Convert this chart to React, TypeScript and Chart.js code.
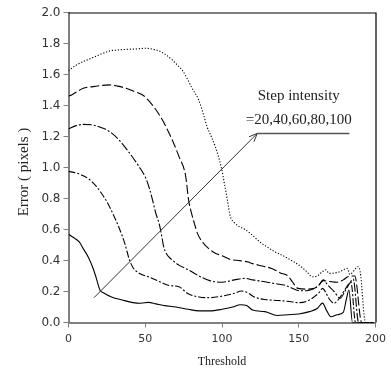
import React, { useEffect, useRef } from "react";
import { Chart, registerables } from "chart.js";

Chart.register(...registerables);

// Step intensity = 20
const s20X = [0, 3, 7, 10, 13, 16, 18, 20.5, 23, 28, 35, 42, 47, 52, 57, 62, 70, 78, 85, 92, 100, 107, 112, 116, 120, 128, 136, 143, 150, 157, 162, 165.5, 168, 171, 175, 179, 181, 182.7, 185, 199];
const s20Y = [0.57, 0.55, 0.52, 0.47, 0.42, 0.35, 0.29, 0.21, 0.19, 0.165, 0.145, 0.128, 0.124, 0.13, 0.12, 0.11, 0.1, 0.085, 0.075, 0.075, 0.085, 0.1, 0.115, 0.11, 0.08, 0.07, 0.045, 0.05, 0.055, 0.07, 0.09, 0.125, 0.08, 0.037, 0.05, 0.065, 0.15, 0.21, 0, 0];

// Step intensity = 40
const s40X = [0, 5, 10, 14, 18, 21, 25, 29, 33, 37, 39.5, 42, 46, 52, 59, 65, 72, 78, 85, 92, 100, 107, 113, 117, 121, 128, 137, 144, 150, 156, 160, 163, 165.5, 168, 170, 173, 176, 180, 184, 187, 199];
const s40Y = [0.975, 0.965, 0.945, 0.92, 0.88, 0.84, 0.78, 0.7, 0.61, 0.5, 0.41, 0.355, 0.318, 0.295, 0.265, 0.24, 0.23, 0.185, 0.165, 0.16, 0.17, 0.185, 0.203, 0.19, 0.165, 0.148, 0.142, 0.135, 0.128, 0.14, 0.165, 0.19, 0.22, 0.185, 0.15, 0.124, 0.15, 0.21, 0.26, 0, 0];

// Step intensity = 60
const s60X = [0, 5, 9.6, 16, 22, 27, 33, 40, 46, 50.4, 53, 55, 57, 59, 60.5, 62, 64, 68, 72, 78, 85, 92, 100, 108, 115, 120, 128, 135, 141, 146, 150, 155, 160, 163, 166, 169, 173, 177, 180, 183, 185.5, 189, 199];
const s60Y = [1.25, 1.27, 1.278, 1.274, 1.255, 1.23, 1.177, 1.09, 1.005, 0.93, 0.855, 0.78, 0.7, 0.64, 0.57, 0.49, 0.44, 0.4, 0.37, 0.34, 0.3, 0.27, 0.26, 0.275, 0.285, 0.275, 0.263, 0.25, 0.24, 0.22, 0.205, 0.205, 0.22, 0.24, 0.275, 0.24, 0.2, 0.156, 0.2, 0.25, 0.28, 0, 0];

// Step intensity = 80
const s80X = [0, 2, 9.6, 16, 26.8, 32, 37.5, 43, 48.3, 54.7, 61.2, 67.6, 72, 76.2, 78.4, 80, 82, 84, 88, 91, 95, 100, 106, 111, 117, 120, 126, 132, 138, 143, 146, 149.5, 155, 160, 163, 166, 170, 175, 179, 182, 186.5, 191, 199];
const s80Y = [1.46, 1.468, 1.511, 1.522, 1.533, 1.525, 1.511, 1.49, 1.468, 1.403, 1.306, 1.177, 1.07, 0.951, 0.78, 0.71, 0.64, 0.575, 0.51, 0.48, 0.45, 0.43, 0.405, 0.4, 0.39, 0.38, 0.365, 0.35, 0.32, 0.3, 0.26, 0.22, 0.215, 0.22, 0.24, 0.27, 0.265, 0.26, 0.275, 0.295, 0.3, 0, 0];

// Step intensity = 100
const s100X = [0, 5, 9.6, 16, 22, 26.8, 32, 37.5, 44, 50.4, 55, 59, 63, 67.6, 71, 74, 77, 80.5, 84.8, 88, 90.2, 93, 95.6, 98, 99.9, 101.5, 103.1, 104.2, 105, 106, 108, 111, 115, 119, 124.6, 129, 134.3, 138, 142.9, 147, 151.5, 155, 159, 162, 165.5, 167.6, 169.8, 176, 181.6, 183.3, 186, 188.5, 190, 193.5, 199];
const s100Y = [1.625, 1.66, 1.683, 1.71, 1.735, 1.752, 1.758, 1.762, 1.765, 1.769, 1.763, 1.752, 1.73, 1.694, 1.66, 1.629, 1.58, 1.511, 1.436, 1.34, 1.264, 1.2, 1.135, 1.06, 0.984, 0.9, 0.812, 0.748, 0.7, 0.67, 0.645, 0.62, 0.6, 0.57, 0.52, 0.49, 0.457, 0.44, 0.414, 0.39, 0.36, 0.33, 0.295, 0.3, 0.328, 0.34, 0.317, 0.325, 0.349, 0.31, 0.335, 0.36, 0.33, 0, 0];

const xTicks = [0, 50, 100, 150, 200];
const yTicks = [0, 0.2, 0.4, 0.6, 0.8, 1.0, 1.2, 1.4, 1.6, 1.8, 2.0];

// Annotation (data coordinates)
const arrowFrom = [16.6, 0.16];
const arrowTo = [123, 1.22];
const shelfEndX = 183;
const noteLines = ["Step intensity", "=20,40,60,80,100"];
const noteAnchorX = 150;
const noteLineY = [1.435, 1.28];

const xTitle = "Threshold";
const yTitle = "Error ( pixels )";

const seriesList = [
  { label: "20", xs: s20X, ys: s20Y, dash: [] as number[] },
  { label: "40", xs: s40X, ys: s40Y, dash: [7, 2, 2, 2] },
  { label: "60", xs: s60X, ys: s60Y, dash: [9, 2, 2, 2] },
  { label: "80", xs: s80X, ys: s80Y, dash: [9, 3] },
  { label: "100", xs: s100X, ys: s100Y, dash: [1.2, 1.8] },
];

const decorPlugin = {
  id: "decor",
  afterDraw(chart: any) {
    const { ctx, chartArea, scales } = chart;
    const xs = scales.x;
    const ys = scales.y;
    ctx.save();
    // top & right frame
    ctx.strokeStyle = "#000";
    ctx.lineWidth = 1.2;
    ctx.beginPath();
    ctx.moveTo(chartArea.left, chartArea.top + 0.5);
    ctx.lineTo(chartArea.right + 0.5, chartArea.top + 0.5);
    ctx.lineTo(chartArea.right + 0.5, chartArea.bottom);
    ctx.stroke();

    // arrow
    const x0 = xs.getPixelForValue(arrowFrom[0]);
    const y0 = ys.getPixelForValue(arrowFrom[1]);
    const x1 = xs.getPixelForValue(arrowTo[0]);
    const y1 = ys.getPixelForValue(arrowTo[1]);
    const x2 = xs.getPixelForValue(shelfEndX);
    ctx.strokeStyle = "#333";
    ctx.lineWidth = 1;
    ctx.beginPath();
    ctx.moveTo(x0, y0);
    ctx.lineTo(x1, y1);
    ctx.stroke();
    const ang = Math.atan2(y1 - y0, x1 - x0);
    const hl = 9;
    ctx.beginPath();
    ctx.moveTo(x1 - hl * Math.cos(ang - 0.4), y1 - hl * Math.sin(ang - 0.4));
    ctx.lineTo(x1, y1);
    ctx.lineTo(x1 - hl * Math.cos(ang + 0.4), y1 - hl * Math.sin(ang + 0.4));
    ctx.stroke();
    ctx.strokeStyle = "#555";
    ctx.lineWidth = 1.5;
    ctx.beginPath();
    ctx.moveTo(x1, y1);
    ctx.lineTo(x2, y1);
    ctx.stroke();

    // note text
    ctx.fillStyle = "#222";
    ctx.font = "15px 'Liberation Serif', 'Times New Roman', serif";
    ctx.textAlign = "center";
    ctx.textBaseline = "alphabetic";
    noteLines.forEach((t, i) => {
      ctx.fillText(t, xs.getPixelForValue(noteAnchorX), ys.getPixelForValue(noteLineY[i]));
    });

    // axis titles
    ctx.font = "12px 'Liberation Serif', 'Times New Roman', serif";
    ctx.fillText(xTitle, (chartArea.left + chartArea.right) / 2, 365);
    ctx.font = "15px 'Liberation Serif', 'Times New Roman', serif";
    ctx.translate(28, 172);
    ctx.rotate(-Math.PI / 2);
    ctx.fillText(yTitle, 0, 0);
    ctx.restore();
  },
};

export default function App() {
  const ref = useRef<HTMLCanvasElement | null>(null);
  useEffect(() => {
    document.body.style.margin = "0";
    const canvas = ref.current;
    if (!canvas) return;
    const chart = new Chart(canvas, {
      type: "line",
      data: {
        datasets: seriesList.map((s) => ({
          label: s.label,
          data: s.xs.map((x, i) => ({ x, y: s.ys[i] })),
          borderColor: "#000",
          borderWidth: 1.1,
          borderDash: s.dash,
          pointRadius: 0,
          fill: false,
          cubicInterpolationMode: "monotone" as const,
        })),
      },
      options: {
        animation: false,
        responsive: false,
        maintainAspectRatio: false,
        layout: { padding: { top: 12.5, right: 12.5, left: 0, bottom: 0 } },
        plugins: { legend: { display: false }, tooltip: { enabled: false } },
        scales: {
          x: {
            type: "linear",
            min: 0,
            max: 200,
            afterBuildTicks: (scale: any) => {
              scale.ticks = xTicks.map((v) => ({ value: v }));
            },
            afterFit: (scale: any) => {
              scale.height = 47.5;
            },
            ticks: {
              color: "#333",
              padding: 5,
              maxRotation: 0,
              font: { family: "'DejaVu Sans', sans-serif", size: 11 },
            },
            grid: { drawOnChartArea: false, drawTicks: true, tickLength: 5, color: "#808080" },
            border: { display: true, color: "#808080", width: 2 },
          },
          y: {
            type: "linear",
            min: 0,
            max: 2,
            afterBuildTicks: (scale: any) => {
              scale.ticks = yTicks.map((v) => ({ value: v }));
            },
            afterFit: (scale: any) => {
              scale.width = 68.5;
            },
            ticks: {
              color: "#333",
              padding: 3,
              callback: (v: any) => Number(v).toFixed(1),
              font: { family: "'DejaVu Sans', sans-serif", size: 12 },
            },
            grid: { drawOnChartArea: false, drawTicks: true, tickLength: 5, color: "#808080" },
            border: { display: true, color: "#808080", width: 2 },
          },
        },
      },
      plugins: [decorPlugin],
    });
    return () => chart.destroy();
  }, []);
  return (
    <div style={{ width: 391, height: 370 }}>
      <canvas ref={ref} width={391} height={370} style={{ display: "block" }} />
    </div>
  );
}
